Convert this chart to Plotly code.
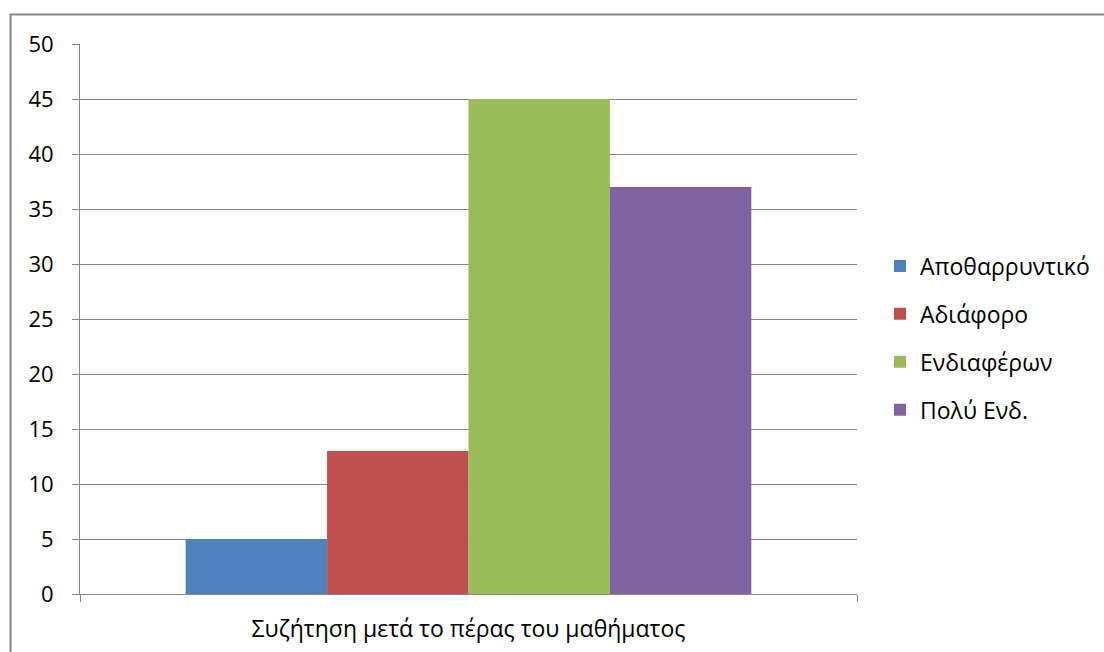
import plotly.graph_objects as go

# Survey answers for a single question, one bar per response option
category = ["Συζήτηση μετά το πέρας του μαθήματος"]
series_names = ["Αποθαρρυντικό", "Αδιάφορο", "Ενδιαφέρων", "Πολύ Ενδ."]
series_values = [5, 13, 45, 37]
series_colors = ["#4F81BD", "#C0504D", "#9BBB59", "#8064A2"]
y_ticks = [0, 5, 10, 15, 20, 25, 30, 35, 40, 45, 50]

W, H = 1104, 652
ML, MR, MT, MB = 80, 247, 44, 58
AXIS_GREY = "#868686"
FONT = "Open Sans"

fig = go.Figure()
for name, val, col in zip(series_names, series_values, series_colors):
    fig.add_trace(go.Bar(
        x=category, y=[val], name=name, legendgroup=name,
        marker=dict(color=col, line=dict(width=0)),
        hoverinfo="name+y",
    ))

# Outer chart-area frame (left and top edges)
pw, ph = W - ML - MR, H - MT - MB
def px_x(p):
    return (p - ML) / pw
def px_y(p):
    return (H - MB - p) / ph

fig.add_shape(type="path", xref="paper", yref="paper",
              path=f"M {px_x(10.5)} {px_y(H + 5)} L {px_x(10.5)} {px_y(14.5)} L {px_x(W + 5)} {px_y(14.5)}",
              line=dict(color=AXIS_GREY, width=2))

fig.update_layout(
    width=W, height=H,
    margin=dict(l=ML, r=MR, t=MT, b=MB, pad=0, autoexpand=False),
    paper_bgcolor="white", plot_bgcolor="white",
    barmode="group", bargap=0.272, bargroupgap=0,
    font=dict(family=FONT, size=22, color="black"),
    showlegend=True,
    legend=dict(x=px_x(880), xanchor="left", xref="paper",
                y=px_y(338), yanchor="middle",
                font=dict(size=23), tracegroupgap=15,
                itemwidth=30, bgcolor="rgba(0,0,0,0)"),
    xaxis=dict(
        type="category", range=[-0.5, 0.5],
        showline=True, linecolor=AXIS_GREY, linewidth=1,
        ticks="outside", tickson="boundaries", ticklen=7, tickcolor=AXIS_GREY,
        showgrid=False, tickfont=dict(size=23), ticklabelstandoff=14,
        automargin=False, fixedrange=True,
    ),
    yaxis=dict(
        range=[0, 50], tickvals=y_ticks,
        showline=True, linecolor=AXIS_GREY, linewidth=1,
        ticks="outside", ticklen=7, tickcolor=AXIS_GREY,
        showgrid=True, gridcolor=AXIS_GREY, gridwidth=1,
        zeroline=False, tickfont=dict(size=22), ticklabelstandoff=14,
        automargin=False, fixedrange=True,
    ),
)

fig.write_html("out.html")
